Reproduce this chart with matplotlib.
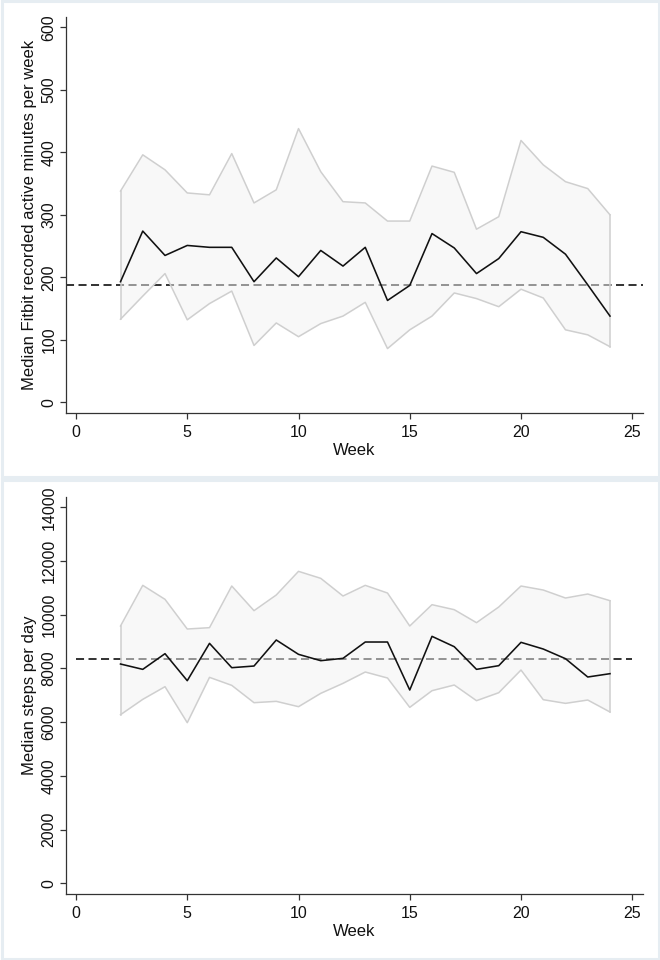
import matplotlib
matplotlib.use("Agg")
import matplotlib.pyplot as plt
from matplotlib.patches import Rectangle

plt.rcParams["font.family"] = ["Liberation Sans", "DejaVu Sans"]
plt.rcParams["lines.scale_dashes"] = False

# weeks 2..24
weeks = list(range(2, 25))

# active minutes per week: median, upper and lower band
mins_median = [193, 274, 235, 251, 248, 248, 193, 231, 201, 243, 218, 248,
               163, 187, 270, 247, 206, 230, 273, 264, 237, 188, 138]
mins_upper = [338, 396, 372, 335, 332, 398, 319, 340, 438, 369, 321, 319,
              290, 290, 378, 368, 277, 297, 419, 380, 353, 342, 300]
mins_lower = [133, 170, 206, 132, 158, 178, 91, 127, 105, 126, 138, 160,
              86, 116, 138, 175, 166, 153, 181, 167, 116, 108, 89]
mins_ref = 188

# steps per day: median, upper and lower band
steps_median = [8167, 7968, 8552, 7546, 8936, 8030, 8092, 9061, 8527, 8291,
                8378, 8986, 8986, 7199, 9197, 8812, 7968, 8105, 8974, 8725,
                8365, 7683, 7807]
steps_upper = [9582, 11096, 10575, 9470, 9520, 11071, 10153, 10736, 11617,
               11357, 10699, 11096, 10810, 9582, 10376, 10190, 9706, 10289,
               11071, 10922, 10624, 10773, 10525]
steps_lower = [6280, 6851, 7323, 5982, 7670, 7372, 6727, 6777, 6578, 7075,
               7447, 7869, 7646, 6553, 7174, 7385, 6802, 7099, 7943, 6839,
               6702, 6826, 6380]
steps_ref = 8353

x_ticks = [0, 5, 10, 15, 20, 25]
mins_ticks = [0, 100, 200, 300, 400, 500, 600]
steps_ticks = [0, 2000, 4000, 6000, 8000, 10000, 12000, 14000]

W, H = 660, 960
fig = plt.figure(figsize=(W / 100, H / 100), dpi=100)
fig.patch.set_facecolor("white")

# pale frames round each panel
frame_col = "#e6edf2"
for y0, y1 in [(0, 478), (478, 960)]:
    fig.patches.append(Rectangle((1.5 / W, 1 - (y1 - 1.5) / H), (W - 3) / W,
                                 (y1 - y0 - 3) / H, transform=fig.transFigure,
                                 fill=False, edgecolor=frame_col, lw=2.2))


def panel(top, bottom, med, up, lo, ref, yticks, ylim, ylabel, ref_span):
    left, right = 66, 642.7
    ax = fig.add_axes([left / W, 1 - bottom / H, (right - left) / W,
                       (bottom - top) / H])
    ax.fill_between(weeks, lo, up, color="#f3f3f3", alpha=0.5, lw=0, zorder=3)
    ax.plot(weeks, up, color="#cfcfcf", lw=1.1, zorder=4)
    ax.plot(weeks, lo, color="#cfcfcf", lw=1.1, zorder=4)
    ax.plot([weeks[0], weeks[0]], [lo[0], up[0]], color="#cfcfcf", lw=1.1, zorder=4)
    ax.plot([weeks[-1], weeks[-1]], [lo[-1], up[-1]], color="#cfcfcf", lw=1.1, zorder=4)
    ax.hlines(ref, ref_span[0], ref_span[1], color="#222222", lw=1.3,
              linestyles=(0, (5.8, 3.2)), zorder=2)
    ax.plot(weeks, med, color="#111111", lw=1.15, zorder=5)
    ax.set_xlim(-0.45, 25.47)
    ax.set_ylim(*ylim)
    ax.set_xticks(x_ticks)
    ax.set_yticks(yticks)
    ax.set_yticklabels([str(v) for v in yticks], rotation=90, va="center")
    for s in ["top", "right"]:
        ax.spines[s].set_visible(False)
    for s in ["left", "bottom"]:
        ax.spines[s].set_color("#333333")
        ax.spines[s].set_linewidth(0.9)
    ax.tick_params(direction="out", length=4, width=0.9, color="#333333",
                   labelsize=11.5, labelcolor="#111111", pad=3)
    ax.tick_params(axis="x", pad=5)
    ax.set_xlabel("Week", fontsize=12, color="#111111", labelpad=2)
    ax.set_ylabel(ylabel, fontsize=12, color="#111111", labelpad=3)
    return ax


panel(16.7, 412.7, mins_median, mins_upper, mins_lower, mins_ref,
      mins_ticks, (-16.6, 617), "Median Fitbit recorded active minutes per week",
      (-0.45, 25.47))
panel(496.7, 894, steps_median, steps_upper, steps_lower, steps_ref,
      steps_ticks, (-397, 14397), "Median steps per day", (0, 25))

fig.savefig("out.png", dpi=100)
